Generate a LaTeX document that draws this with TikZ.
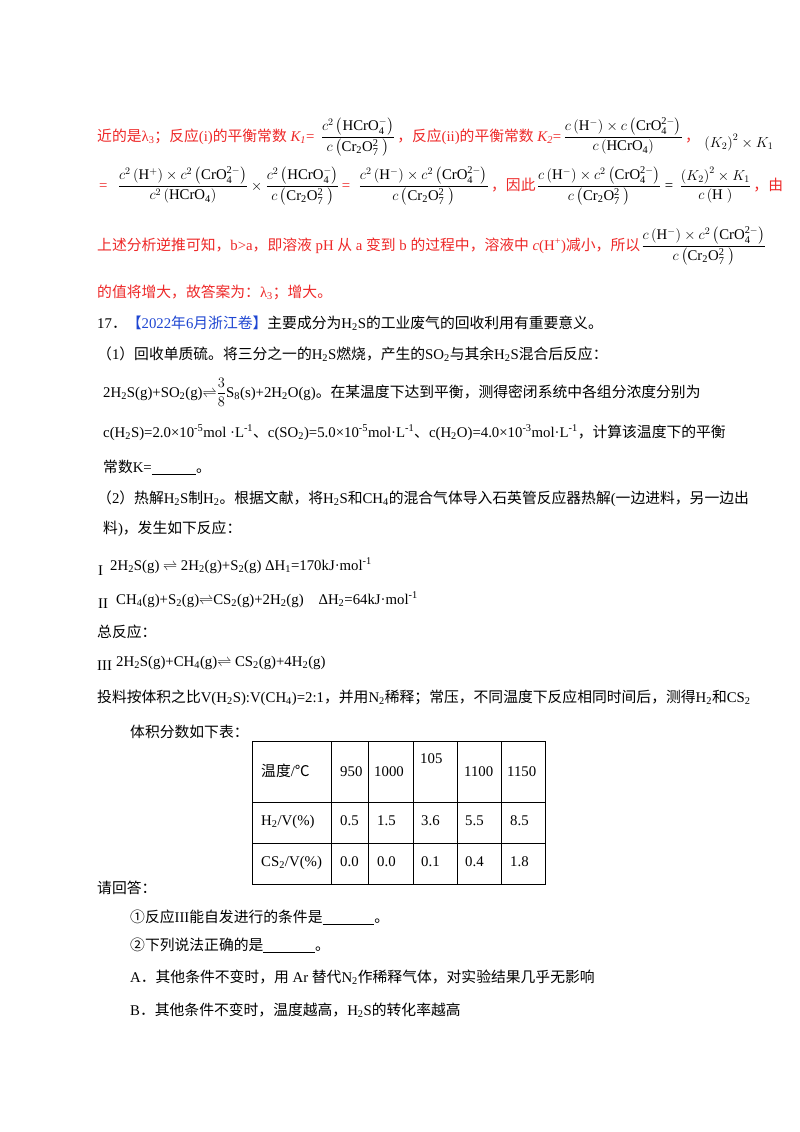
\documentclass[tikz,border=0pt]{standalone}
\usepackage{amsmath}
\usepackage{fontspec}
\setmainfont{Liberation Serif}
\newfontfamily\cjk{Noto Sans CJK SC}
\XeTeXinterchartokenstate=1
\newXeTeXintercharclass\cjkcls
\newcount\cc
\def\setcls#1#2{\cc=#1 \loop\XeTeXcharclass\cc=\cjkcls\ifnum\cc<#2 \advance\cc by 1 \repeat}
\setcls{"3000}{"303F}
\setcls{"4E00}{"9FFF}
\setcls{"FF00}{"FFEF}
\setcls{"2460}{"2473}
\setcls{"2103}{"2103}
\XeTeXinterchartoks 0 \cjkcls = {\cjk}
\XeTeXinterchartoks 4095 \cjkcls = {\cjk}
\XeTeXinterchartoks \cjkcls 0 = {\rmfamily}
\XeTeXinterchartoks \cjkcls 4095 = {\rmfamily}
\newcommand\Ss[1]{\textsubscript{#1}}
\newcommand\Sp[1]{\textsuperscript{#1}}
\definecolor{ansred}{RGB}{238,40,40}
\definecolor{hdblue}{RGB}{30,70,210}
\tikzset{
  every node/.style={inner sep=0pt,font=\fontsize{14.8}{17}\selectfont},
  tx/.style={anchor=base west},
  rt/.style={anchor=base west,text=ansred},
  tline/.style={line width=1pt}
}
\begin{document}
\begin{tikzpicture}[x=1pt,y=-1pt]
\useasboundingbox (0,0) rectangle (800,1132);
\fill[white] (0,0) rectangle (800,1132);
% line 1
\node[rt] (a1) at (97,141) {近的是λ\Ss{3}；反应(i)的平衡常数 \textit{K\Ss{1}}=};
\node[tx] (a2) at ([xshift=6pt]a1.base east) {$\dfrac{c^2\left(\mathrm{HCrO_4^-}\right)}{c\left(\mathrm{Cr_2O_7^{2}}\;\right)}$};
\node[rt] (a3) at ([xshift=2pt]a2.base east) {，反应(ii)的平衡常数 \textit{K\Ss{2}}=};
\node[tx] (a4) at ([xshift=2pt]a3.base east) {$\dfrac{c\left(\mathrm{H^-}\right)\times c\left(\mathrm{CrO_4^{2-}}\right)}{c\left(\mathrm{HCrO_4}\right)}$};
\node[rt] (a5) at ([xshift=2pt]a4.base east) {，};
\node[tx] (a6) at ([xshift=4pt,yshift=-6pt]a5.base east) {$\left(K_2\right)^2\times K_1$};
% line 2
\node[rt] (b1) at (99,190) {=};
\node[tx] (b2) at ([xshift=10pt]b1.base east) {$\dfrac{c^2\left(\mathrm{H^+}\right)\times c^2\left(\mathrm{CrO_4^{2-}}\right)}{c^2\left(\mathrm{HCrO_4}\right)}\times\dfrac{c^2\left(\mathrm{HCrO_4^-}\right)}{c\left(\mathrm{Cr_2O_7^{2}}\;\right)}$};
\node[rt] (b3) at ([xshift=2pt]b2.base east) {=};
\node[tx] (b4) at ([xshift=8pt]b3.base east) {$\dfrac{c^2\left(\mathrm{H^-}\right)\times c^2\left(\mathrm{CrO_4^{2-}}\right)}{c\left(\mathrm{Cr_2O_7^{2}}\;\right)}$};
\node[rt] (b5) at ([xshift=2pt]b4.base east) {，因此};
\node[tx] (b6) at ([xshift=1pt]b5.base east) {$\dfrac{c\left(\mathrm{H^-}\right)\times c^2\left(\mathrm{CrO_4^{2-}}\right)}{c\left(\mathrm{Cr_2O_7^{2}}\;\right)}$};
\node[tx] (b7) at ([xshift=3pt]b6.base east) {=};
\node[tx] (b8) at ([xshift=6pt]b7.base east) {$\dfrac{\left(K_2\right)^2\times K_1}{c\left(\mathrm{H}\;\right)}$};
\node[rt] (b9) at ([xshift=2pt]b8.base east) {，由};
% line 3
\node[rt] (c1) at (97,250) {上述分析逆推可知，b>a，即溶液 pH 从 a 变到 b 的过程中，溶液中 \textit{c}(H\Sp{+})减小，所以};
\node[tx] (c2) at ([xshift=1pt]c1.base east) {$\dfrac{c\left(\mathrm{H^-}\right)\times c^2\left(\mathrm{CrO_4^{2-}}\right)}{c\left(\mathrm{Cr_2O_7^{2}}\;\right)}$};
\node[rt] (c3) at (97,297) {的值将增大，故答案为：λ\Ss{3}；增大。};
% question 17
\node[tx] (d1) at (97,328) {17．\textcolor{hdblue}{【2022年6月浙江卷】}主要成分为H\Ss{2}S的工业废气的回收利用有重要意义。};
\node[tx] (d2) at (97,359) {（1）回收单质硫。将三分之一的H\Ss{2}S燃烧，产生的SO\Ss{2}与其余H\Ss{2}S混合后反应：};
\node[tx] (d3) at (103,397) {2H\Ss{2}S(g)+SO\Ss{2}(g)$\rightleftharpoons$$\dfrac{3}{8}$S\Ss{8}(s)+2H\Ss{2}O(g)。在某温度下达到平衡，测得密闭系统中各组分浓度分别为};
\node[tx] (d4) at (103,437) {c(H\Ss{2}S)=2.0×10\Sp{-5}mol ·L\Sp{-1}、c(SO\Ss{2})=5.0×10\Sp{-5}mol·L\Sp{-1}、c(H\Ss{2}O)=4.0×10\Sp{-3}mol·L\Sp{-1}，计算该温度下的平衡};
\node[tx] (d5) at (103,472) {常数K=\underline{\hspace{3em}}。};
\node[tx] (d6) at (97,503) {（2）热解H\Ss{2}S制H\Ss{2}。根据文献，将H\Ss{2}S和CH\Ss{4}的混合气体导入石英管反应器热解(一边进料，另一边出};
\node[tx] (d7) at (103,533) {料)，发生如下反应：};
\node[tx] (e1) at (98,575) {I};
\node[tx] (e2) at (110,570) {2H\Ss{2}S(g) $\rightleftharpoons$ 2H\Ss{2}(g)+S\Ss{2}(g) ΔH\Ss{1}=170kJ·mol\Sp{-1}};
\node[tx] (e3) at (98,608) {II};
\node[tx] (e4) at (116,604) {CH\Ss{4}(g)+S\Ss{2}(g)$\rightleftharpoons$CS\Ss{2}(g)+2H\Ss{2}(g)\quad ΔH\Ss{2}=64kJ·mol\Sp{-1}};
\node[tx] (e5) at (97,637) {总反应：};
\node[tx] (e6) at (97,670) {III};
\node[tx] (e7) at (116,666) {2H\Ss{2}S(g)+CH\Ss{4}(g)$\rightleftharpoons$ CS\Ss{2}(g)+4H\Ss{2}(g)};
\node[tx] (f1) at (97,702) {投料按体积之比V(H\Ss{2}S):V(CH\Ss{4})=2:1，并用N\Ss{2}稀释；常压，不同温度下反应相同时间后，测得H\Ss{2}和CS\Ss{2}};
\node[tx] (f2) at (130,737) {体积分数如下表：};
% table
\draw[tline] (252,741) rectangle (545,884);
\foreach \yy in {802,843} \draw[tline] (252,\yy) -- (545,\yy);
\foreach \xx in {331,368,413,457,501} \draw[tline] (\xx,741) -- (\xx,884);
\node[tx] (g1) at (261,776) {温度/℃};
\node[tx] (g2) at (340,776) {950};
\node[tx] (g3) at (374,776) {1000};
\node[tx] (g4) at (420,763) {105};
\node[tx] (g5) at (464,776) {1100};
\node[tx] (g6) at (507,776) {1150};
\node[tx] (h1) at (261,825) {H\Ss{2}/V(\%)};
\node[tx] (h2) at (340,825) {0.5};
\node[tx] (h3) at (377,825) {1.5};
\node[tx] (h4) at (421,825) {3.6};
\node[tx] (h5) at (465,825) {5.5};
\node[tx] (h6) at (510,825) {8.5};
\node[tx] (i1) at (261,866) {CS\Ss{2}/V(\%)};
\node[tx] (i2) at (340,866) {0.0};
\node[tx] (i3) at (377,866) {0.0};
\node[tx] (i4) at (421,866) {0.1};
\node[tx] (i5) at (465,866) {0.4};
\node[tx] (i6) at (510,866) {1.8};
% questions
\node[tx] (j1) at (97,893) {请回答：};
\node[tx] (j2) at (130,922) {①反应III能自发进行的条件是\underline{\hspace{3.5em}}。};
\node[tx] (j3) at (130,950) {②下列说法正确的是\underline{\hspace{3.5em}}。};
\node[tx] (j4) at (130,982) {A．其他条件不变时，用 Ar 替代N\Ss{2}作稀释气体，对实验结果几乎无影响};
\node[tx] (j5) at (130,1015) {B．其他条件不变时，温度越高，H\Ss{2}S的转化率越高};
\end{tikzpicture}
\end{document}
